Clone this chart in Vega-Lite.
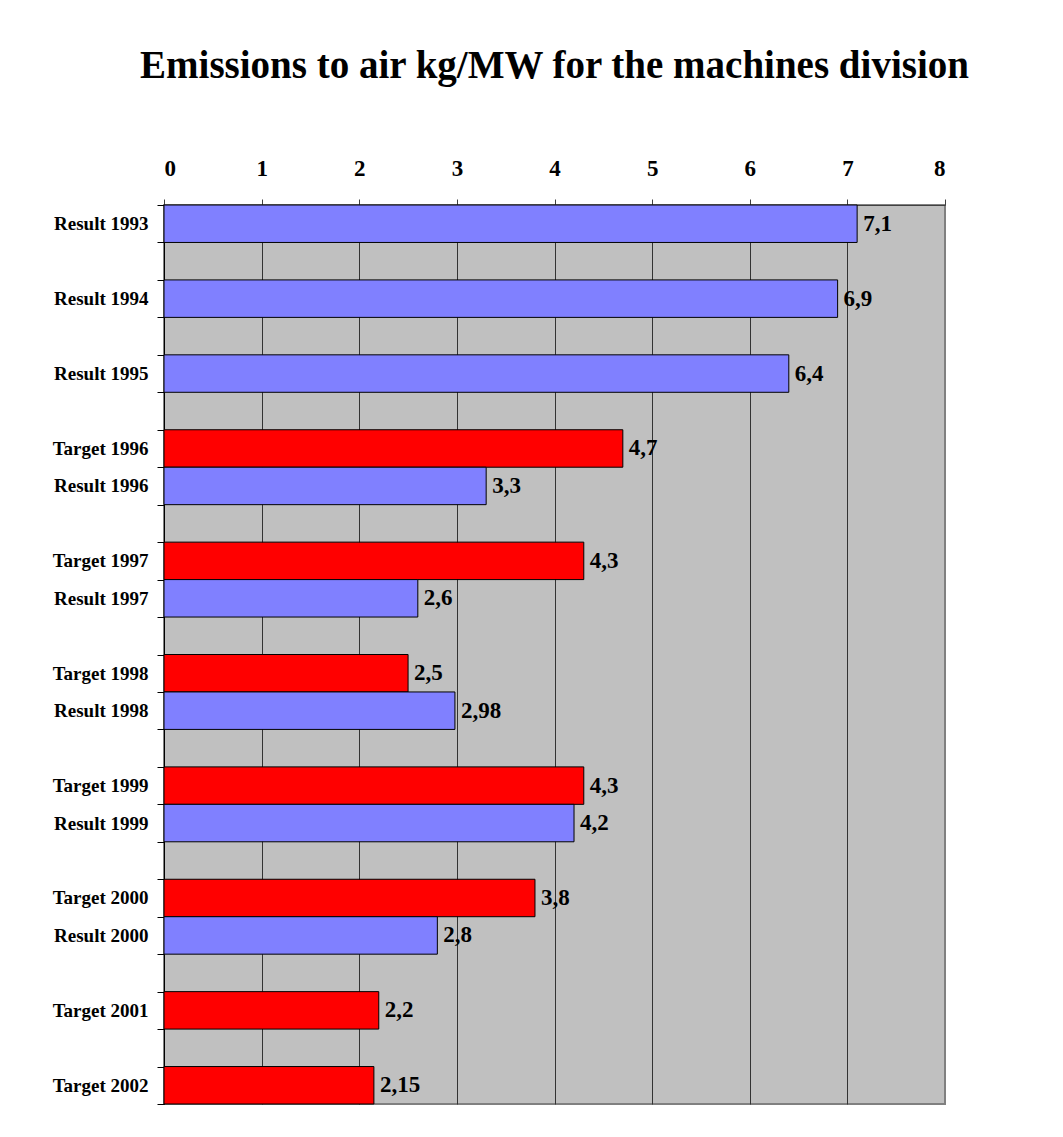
{
  "$schema": "https://vega.github.io/schema/vega-lite/v6.json",
  "autosize": "none",
  "width": 781,
  "height": 899,
  "padding": {"left": 164, "top": 205, "right": 118, "bottom": 33},
  "background": "white",
  "title": {
    "text": "Emissions to air kg/MW for the machines division",
    "font": "Liberation Serif",
    "fontSize": 39,
    "fontWeight": "bold",
    "color": "black",
    "anchor": "middle",
    "offset": 71
  },
  "config": {
    "locale": {"number": {"decimal": ",", "thousands": ".", "grouping": [3], "currency": ["", ""]}},
    "view": {"fill": "#C0C0C0", "stroke": "#808080", "strokeWidth": 2}
  },
  "data": {
    "values": [
      {"item": "Result 1993", "type": "Result", "value": 7.1},
      {"item": "Result 1994", "type": "Result", "value": 6.9},
      {"item": "Result 1995", "type": "Result", "value": 6.4},
      {"item": "Target 1996", "type": "Target", "value": 4.7},
      {"item": "Result 1996", "type": "Result", "value": 3.3},
      {"item": "Target 1997", "type": "Target", "value": 4.3},
      {"item": "Result 1997", "type": "Result", "value": 2.6},
      {"item": "Target 1998", "type": "Target", "value": 2.5},
      {"item": "Result 1998", "type": "Result", "value": 2.98},
      {"item": "Target 1999", "type": "Target", "value": 4.3},
      {"item": "Result 1999", "type": "Result", "value": 4.2},
      {"item": "Target 2000", "type": "Target", "value": 3.8},
      {"item": "Result 2000", "type": "Result", "value": 2.8},
      {"item": "Target 2001", "type": "Target", "value": 2.2},
      {"item": "Target 2002", "type": "Target", "value": 2.15}
    ]
  },
  "encoding": {
    "y": {
      "field": "item",
      "type": "nominal",
      "sort": null,
      "scale": {
        "domain": ["Result 1993", " ", "Result 1994", "  ", "Result 1995", "   ", "Target 1996", "Result 1996", "    ", "Target 1997", "Result 1997", "     ", "Target 1998", "Result 1998", "      ", "Target 1999", "Result 1999", "       ", "Target 2000", "Result 2000", "        ", "Target 2001", "         ", "Target 2002"],
        "paddingInner": 0,
        "paddingOuter": 0
      },
      "axis": {
        "title": null,
        "tickBand": "extent",
        "tickSize": 7,
        "tickColor": "black",
        "domainColor": "black",
        "labelFont": "Liberation Serif",
        "labelFontSize": 19,
        "labelFontWeight": "bold",
        "labelColor": "black",
        "labelPadding": 9,
        "grid": false
      }
    },
    "x": {
      "field": "value",
      "type": "quantitative",
      "scale": {"domain": [0, 8], "nice": false},
      "axis": {
        "orient": "top",
        "title": null,
        "values": [0, 1, 2, 3, 4, 5, 6, 7, 8],
        "format": "d",
        "tickSize": 6,
        "tickColor": "#404040",
        "domainColor": "#404040",
        "labelFont": "Liberation Serif",
        "labelFontSize": 23,
        "labelFontWeight": "bold",
        "labelColor": "black",
        "labelPadding": 19,
        "grid": true,
        "gridColor": {"condition": {"test": "datum.value == 8", "value": "#808080"}, "value": "#333333"},
        "gridOpacity": 1,
        "gridWidth": 1
      }
    }
  },
  "layer": [
    {
      "mark": {"type": "bar", "stroke": "black", "strokeWidth": 1},
      "encoding": {
        "color": {
          "field": "type",
          "type": "nominal",
          "scale": {"domain": ["Result", "Target"], "range": ["#8080FF", "#FF0000"]},
          "legend": null
        }
      }
    },
    {
      "mark": {
        "type": "text",
        "align": "left",
        "baseline": "middle",
        "dx": 6,
        "font": "Liberation Serif",
        "fontSize": 23,
        "fontWeight": "bold",
        "color": "black"
      },
      "encoding": {
        "text": {"field": "value", "type": "quantitative", "format": "~g"}
      }
    }
  ]
}
